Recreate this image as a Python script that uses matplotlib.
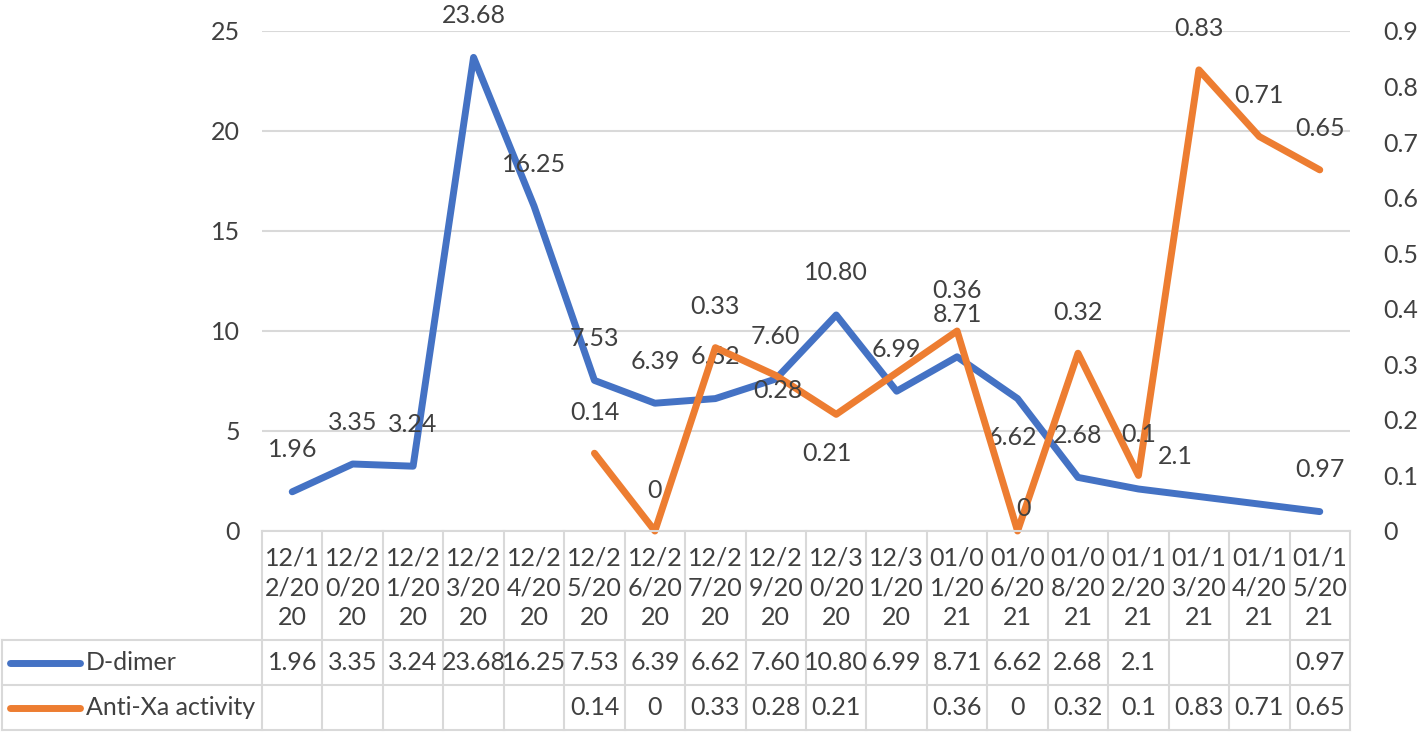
import numpy as np
import matplotlib
matplotlib.use("Agg")
import matplotlib.pyplot as plt

plt.rcParams['font.family'] = ['Lato', 'DejaVu Sans']

# data
dates = ["12/12/2020", "12/20/2020", "12/21/2020", "12/23/2020", "12/24/2020",
         "12/25/2020", "12/26/2020", "12/27/2020", "12/29/2020", "12/30/2020",
         "12/31/2020", "01/01/2021", "01/06/2021", "01/08/2021", "01/12/2021",
         "01/13/2021", "01/14/2021", "01/15/2021"]
ddimer_text = ["1.96", "3.35", "3.24", "23.68", "16.25", "7.53", "6.39", "6.62", "7.60",
               "10.80", "6.99", "8.71", "6.62", "2.68", "2.1", "", "", "0.97"]
antixa_text = ["", "", "", "", "", "0.14", "0", "0.33", "0.28", "0.21", "",
               "0.36", "0", "0.32", "0.1", "0.83", "0.71", "0.65"]

ddimer = np.array([float(s) if s else np.nan for s in ddimer_text])
antixa = np.array([float(s) if s else np.nan for s in antixa_text])

# label offsets in pixels (dx, dy), screen direction (dy negative = up)
ddimer_off = [(0, -42)] * 18
ddimer_off[12] = (-5, 39)
ddimer_off[14] = (37, -32)
antixa_off = [(0, -41)] * 18
antixa_off[8] = (2, 15)
antixa_off[9] = (-9, 39)
antixa_off[12] = (6, -23)

BLUE = '#4472C4'
ORANGE = '#ED7D31'
TXT = '#404040'
GRID = '#d9d9d9'
FS = 18

W, H = 1424, 732
fig = plt.figure(figsize=(W / 100, H / 100), dpi=100)

L, R, T, B = 262, 1350, 31, 531
ax = fig.add_axes([L / W, (H - B) / H, (R - L) / W, (B - T) / H])
ax2 = ax.twinx()
n = len(dates)
x = np.arange(n)

ax.set_xlim(-0.5, n - 0.5)
ax.set_ylim(0, 25)
ax.set_yticks(np.arange(0, 26, 5))
ax.grid(axis='y', color=GRID, lw=1.5)
ax.set_axisbelow(True)
ax.set_xticks([])
ax2.set_ylim(0, 0.9)
ax2.set_yticks(np.round(np.arange(0, 0.91, 0.1), 1))
ax2.set_yticklabels(["0"] + ["%.1f" % v for v in np.arange(0.1, 0.91, 0.1)])
for a in (ax, ax2):
    for s in a.spines.values():
        s.set_visible(False)
    a.tick_params(length=0, labelsize=FS, labelcolor=TXT)
ax.tick_params(axis='y', pad=16)
ax2.tick_params(axis='y', pad=24)

m = ~np.isnan(ddimer)
ax.plot(x[m], ddimer[m], color=BLUE, lw=5, solid_capstyle='round',
        solid_joinstyle='round', zorder=3, clip_on=False)
m2 = ~np.isnan(antixa)
ax2.plot(x[m2], antixa[m2], color=ORANGE, lw=5, solid_capstyle='round',
         solid_joinstyle='round', zorder=3, clip_on=False)

for i in range(n):
    if ddimer_text[i]:
        dx, dy = ddimer_off[i]
        ax.annotate(ddimer_text[i], (x[i], ddimer[i]), xytext=(dx * 0.72, -dy * 0.72),
                    textcoords='offset points', ha='center', va='center',
                    fontsize=FS, color=TXT, zorder=5)
    if antixa_text[i]:
        dx, dy = antixa_off[i]
        ax2.annotate(antixa_text[i], (x[i], antixa[i]), xytext=(dx * 0.72, -dy * 0.72),
                     textcoords='offset points', ha='center', va='center',
                     fontsize=FS, color=TXT, zorder=5)

# data table under the plot
tb = fig.add_axes([L / W, (H - 730) / H, (R - L) / W, (730 - B) / H])
tb.set_xlim(-0.5, n - 0.5)
tb.set_ylim(199, 0)
tb.axis('off')
rows = [0, 109, 154, 199]
px = (n) / (R - L)  # data units per pixel
x_left = -0.5 - (L - 2) * px
lkw = dict(color=GRID, lw=1.5, clip_on=False)

# horizontal lines
tb.plot([-0.5, n - 0.5], [rows[0], rows[0]], **lkw)
for r in rows[1:]:
    tb.plot([x_left, n - 0.5], [r, r], **lkw)
# vertical lines
for i in range(n + 1):
    tb.plot([i - 0.5, i - 0.5], [rows[0], rows[3]], **lkw)
tb.plot([x_left, x_left], [rows[1], rows[3]], **lkw)

for i, d in enumerate(dates):
    tb.text(i, (rows[0] + rows[1]) / 2 + 2, d[0:4] + "\n" + d[4:8] + "\n" + d[8:],
            ha='center', va='center', fontsize=FS, color=TXT, linespacing=1.36)
    tb.text(i, (rows[1] + rows[2]) / 2, ddimer_text[i], ha='center', va='center',
            fontsize=FS, color=TXT)
    tb.text(i, (rows[2] + rows[3]) / 2, antixa_text[i], ha='center', va='center',
            fontsize=FS, color=TXT)

series = [("D-dimer", BLUE), ("Anti-Xa activity", ORANGE)]
for k, (name, col) in enumerate(series):
    yc = (rows[k + 1] + rows[k + 2]) / 2
    tb.plot([-0.5 - (L - 10) * px, -0.5 - (L - 80) * px], [yc, yc], color=col, lw=5,
            solid_capstyle='round', clip_on=False)
    tb.text(-0.5 - (L - 86) * px, yc, name, ha='left', va='center', fontsize=FS, color=TXT)

fig.savefig("out.png", dpi=100)
